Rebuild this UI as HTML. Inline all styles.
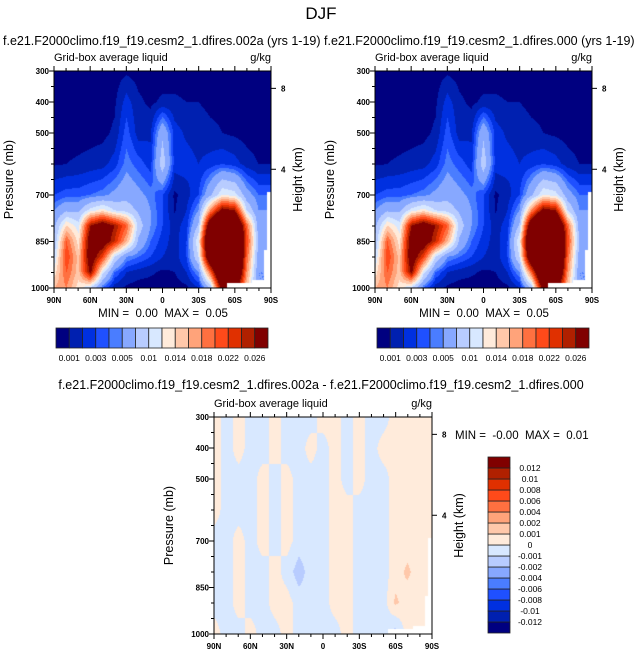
<!DOCTYPE html>
<html><head><meta charset="utf-8"><style>
body{margin:0;background:#fff;width:643px;height:658px;position:relative;overflow:hidden;font-family:"Liberation Sans",sans-serif;}
svg{position:absolute;left:0;top:0}
canvas{position:absolute}
text{white-space:pre}
</style></head><body>
<canvas id="c1" width="217" height="217" style="left:54px;top:71px"></canvas>
<canvas id="c2" width="217" height="217" style="left:375px;top:71px"></canvas>
<canvas id="c3" width="218" height="217" style="left:214px;top:417px"></canvas>
<svg id="s" width="643" height="658"></svg>
<script>
const lats=[90,80,70,60,50,40,30,20,10,0,-10,-20,-30,-40,-50,-60,-70,-80,-90];
const plevs=[300,400,500,600,700,750,800,850,900,950,1000];
const row300=[.0005,.0005,.0005,.0005,.0005,.0005,.0008,.0006,.0005,.0005,.0005,.0005,.0005,.0005,.0005,.0005,.0005,.0005,.0005];
const row400=[.0005,.0005,.0005,.0005,.0005,.0008,.0025,.0012,.0008,.0012,.0012,.001,.001,.0008,.0008,.0006,.0005,.0005,.0005];
const row500=[.0005,.0005,.0005,.0006,.0007,.0012,.0035,.0015,.0018,.007,.0025,.0018,.0015,.0012,.001,.0008,.0006,.0005,.0005];
const row600=[.0009,.001,.0012,.0014,.0016,.0025,.0045,.0035,.0025,.009,.0025,.0025,.002,.0025,.003,.0025,.0015,.001,.001];
const row700=[.003,.0035,.0035,.004,.0045,.0055,.0065,.0055,.0045,.003,.0008,.0015,.003,.007,.012,.011,.006,.004,.004];
const row750=[.005,.007,.007,.011,.013,.010,.009,.007,.005,.003,.0009,.002,.005,.018,.028,.026,.01,.005,.005];
const row800=[.007,.014,.011,.026,.03,.026,.02,.009,.005,.003,.0015,.0025,.008,.033,.045,.04,.02,.006,.005];
const row850=[.008,.02,.013,.03,.03,.024,.016,.007,.004,.0025,.0015,.003,.012,.04,.05,.045,.022,.007,.005];
const row900=[.01,.022,.015,.03,.022,.01,.005,.004,.003,.002,.0015,.003,.01,.035,.05,.045,.02,.006,.005];
const row950=[.013,.02,.015,.027,.011,.004,.002,.0015,.0012,.0008,.001,.002,.005,.02,.04,.04,.018,.005,.005];
const row1000=[.016,.018,.013,.01,.004,.0015,.0008,.0005,.0005,.0005,.0005,.0008,.002,.008,.03,.03,.015,.005,.005];
const field=[row300,row400,row500,row600,row700,row750,row800,row850,row900,row950,row1000];
const dplevs=[300,400,500,600,700,800,900,1000];
const d300=[.0005,-.0005,.0005,-.0005,-.0005,.0005,-.0005,-.0005,-.0005,.0005,.0005,-.0005,.0005,-.0005,-.0005,.0005,.0005,.0005,.0005];
const d400=[.0005,-.0005,.0005,-.0005,-.0005,.0005,-.0005,-.0005,.0005,-.0005,.0005,-.0005,.0005,-.0005,.0005,.0005,.0005,.0005,.0005];
const d500=[.0005,-.0005,-.0005,-.0005,.0005,-.0005,.0005,-.0005,-.0005,-.0005,.0005,-.0005,.0005,-.0005,-.0005,.0005,.0005,.0005,.0005];
const d600=[.0005,-.0005,-.0005,-.0005,.0005,-.0005,.0005,-.0005,-.0005,-.0005,.0005,.0005,-.0005,-.0005,-.0005,.0005,.0005,.0005,.0005];
const d700=[-.0005,-.0005,.0005,-.0005,.0005,-.0005,.0005,-.0005,-.0005,-.0005,.0005,.0005,-.0005,-.0005,-.0005,.0005,.0005,.0005,.0005];
const d800=[-.0005,-.0005,.0005,-.0005,-.0005,.0005,-.0005,-.0015,-.0005,-.0005,.0005,.0005,-.0005,-.0005,-.0005,.0005,.0012,.0005,.0005];
const d900=[-.0005,-.0005,.0005,-.0005,-.0005,.0005,.0005,-.0005,-.0005,-.0005,.0005,.0005,-.0005,-.0005,-.0005,.0012,.0005,.0005,.0005];
const d1000=[.0005,-.0005,-.0005,.0005,-.0005,-.0005,.0005,-.0005,-.0005,-.0005,-.0005,.0005,-.0005,-.0005,-.0005,-.0015,.0005,.0005,.0005];
const dfield=[d300,d400,d500,d600,d700,d800,d900,d1000];
const colors=["#000080","#0020B0","#0030E0","#1F50FF","#4A7DFF","#87A8FF","#B8CCFF","#D8E8FF","#FFEBDB","#FFC8AA","#FFA37A","#FF7040","#FF4A1A","#E03000","#B02000","#800000"];
const levels=[0.001,0.002,0.003,0.004,0.005,0.0075,0.01,0.012,0.014,0.016,0.018,0.02,0.022,0.024,0.026];
const levelLabels=["0.001","","0.003","","0.005","","0.01","","0.014","","0.018","","0.022","","0.026"];
const dlevels=[-0.012,-0.01,-0.008,-0.006,-0.004,-0.002,-0.001,0,0.001,0.002,0.004,0.006,0.008,0.01,0.012];
const dlevelLabels=["-0.012","-0.01","-0.008","-0.006","-0.004","-0.002","-0.001","0","0.001","0.002","0.004","0.006","0.008","0.01","0.012"];
const pTicks=[300,400,500,700,850,1000];
const xTicks=[90,60,30,0,-30,-60,-90];
const xTickLabels=["90N","60N","30N","0","30S","60S","90S"];
const hTicks=[{p:356,l:"8"},{p:617,l:"4"}];
// below-ground masks: [lat from, lat to, pressure from]
const masks=[[-54,-75,985],[-75,-85,975],[-87,-90,690],[-85,-90,880]];

function hexRgb(h){return [parseInt(h.substr(1,2),16),parseInt(h.substr(3,2),16),parseInt(h.substr(5,2),16)];}
const rgb=colors.map(hexRgb);
function colorIdx(v,lv){let i=0;while(i<lv.length&&v>=lv[i])i++;return i;}
function interp(grid,pl,lat,p){
  let fx=(90-lat)/10; let i=Math.min(Math.floor(fx),lats.length-2); let tx=fx-i;
  let j=0;while(j<pl.length-2&&p>pl[j+1])j++; let ty=(p-pl[j])/(pl[j+1]-pl[j]);
  const a=grid[j][i],b=grid[j][i+1],c=grid[j+1][i],d=grid[j+1][i+1];
  return a*(1-tx)*(1-ty)+b*tx*(1-ty)+c*(1-tx)*ty+d*tx*ty;
}
function masked(lat,p){return masks.some(m=>lat<=m[0]&&lat>=m[1]&&p>=m[2]);}
function draw(id,grid,pl,lv){
  const cv=document.getElementById(id),ctx=cv.getContext('2d');
  const W=cv.width,H=cv.height,img=ctx.createImageData(W,H);
  for(let y=0;y<H;y++)for(let x=0;x<W;x++){
    const lat=90-180*x/(W-1), p=300+700*y/(H-1);
    const v=interp(grid,pl,lat,p); const k=(y*W+x)*4;
    let c=masked(lat,p)?[255,255,255]:rgb[colorIdx(v,lv)];
    img.data[k]=c[0];img.data[k+1]=c[1];img.data[k+2]=c[2];img.data[k+3]=255;}
  ctx.putImageData(img,0,0);
}
draw('c1',field,plevs,levels);draw('c2',field,plevs,levels);draw('c3',dfield,dplevs,dlevels);

const S=document.getElementById('s'),NS="http://www.w3.org/2000/svg";
function el(t,a,txt){const e=document.createElementNS(NS,t);for(const k in a)e.setAttribute(k,a[k]);if(txt!==undefined)e.textContent=txt;S.appendChild(e);return e;}
function txt(x,y,s,size,anchor,name,extra){const e=el('text',Object.assign({x:x,y:y,'font-size':size,'text-anchor':anchor||'start',fill:'#000'},extra||{}),s);

return e;}
txt(321,19,"DJF",17,'middle','figure-title');

function panel(x0,y0,w,h,title,tx,ta,minmax,mmx,mmy,pfx){
  const X=lat=>x0+(90-lat)/180*w, Y=p=>y0+(p-300)/700*h;
  if(title)txt(tx,45,title,12.5,ta,pfx+'-title');
  txt(x0,y0-10,"Grid-box average liquid",11,'start',pfx+'-subtitle');
  txt(x0+w,y0-10,"g/kg",11,'end',pfx+'-units');
  const fr=el('rect',{x:x0,y:y0,width:w,height:h,fill:'none',stroke:'#000','stroke-width':1});
  
  
  pTicks.forEach(p=>{el('line',{x1:x0-5,x2:x0,y1:Y(p),y2:Y(p),stroke:'#000'});
    txt(x0-5,Y(p)+3,String(p),8,'end',pfx+'-y-tick-label',{'font-weight':'bold'});});
  for(let p=350;p<1000;p+=50){if(pTicks.indexOf(p)<0)el('line',{x1:x0-3,x2:x0,y1:Y(p),y2:Y(p),stroke:'#000'});}
  xTicks.forEach((l,i)=>{el('line',{x1:X(l),x2:X(l),y1:y0+h,y2:y0+h+5,stroke:'#000'});el('line',{x1:X(l),x2:X(l),y1:y0,y2:y0-5,stroke:'#000'});
    txt(X(l),y0+h+15,xTickLabels[i],8,'middle',pfx+'-x-tick-label',{'font-weight':'bold'});});
  for(let l=80;l>-90;l-=10){if(l%30){el('line',{x1:X(l),x2:X(l),y1:y0+h,y2:y0+h+3,stroke:'#000'});el('line',{x1:X(l),x2:X(l),y1:y0,y2:y0-3,stroke:'#000'});}}
  hTicks.forEach(o=>{el('line',{x1:x0+w,x2:x0+w+5,y1:Y(o.p),y2:Y(o.p),stroke:'#000'});
    txt(x0+w+10,Y(o.p)+3,o.l,8,'start',pfx+'-height-tick-label',{'font-weight':'bold'});});
  txt(0,0,"Pressure (mb)",12.5,'middle',pfx+'-y-axis-title',{transform:`translate(${x0-41},${y0+h/2}) rotate(-90)`});
  txt(0,0,"Height (km)",12.5,'middle',pfx+'-right-axis-title',{transform:`translate(${x0+w+31},${y0+h/2}) rotate(-90)`});
  txt(mmx,mmy,minmax,11.5,pfx==='diff'?'start':'middle',pfx+'-min-max');
}
panel(54,71,217,217,"f.e21.F2000climo.f19_f19.cesm2_1.dfires.002a (yrs 1-19)",3,'start',"MIN =  0.00  MAX =  0.05",163,317,'left');
panel(375,71,217,217,"f.e21.F2000climo.f19_f19.cesm2_1.dfires.000 (yrs 1-19)",324,'start',"MIN =  0.00  MAX =  0.05",484,317,'right');
panel(214,417,218,217,"",0,'start',"MIN =  -0.00  MAX =  0.01",455,439,'diff');
txt(321,389,"f.e21.F2000climo.f19_f19.cesm2_1.dfires.002a - f.e21.F2000climo.f19_f19.cesm2_1.dfires.000",12.5,'middle','diff-title');

function hbar(x0,pfx){const bw=212/16;
  colors.forEach((c,i)=>{const r=el('rect',{x:x0+i*bw,y:328,width:bw,height:20,fill:c,stroke:'#222','stroke-width':0.8});
    
    });
  levelLabels.forEach((l,i)=>{if(l)txt(x0+(i+1)*bw,361,l,8.5,'middle',pfx+'-colorbar-label');});}
hbar(56,'left');hbar(377,'right');
const bh=176/16;
colors.forEach((c,i)=>{const r=el('rect',{x:488,y:457+(15-i)*bh,width:22,height:bh,fill:c,stroke:'#222','stroke-width':0.8});
  
  });
dlevelLabels.forEach((l,i)=>{txt(530,457+(15-i)*bh+3,l,8.5,'middle','diff-colorbar-label');});
</script>
</body></html>
